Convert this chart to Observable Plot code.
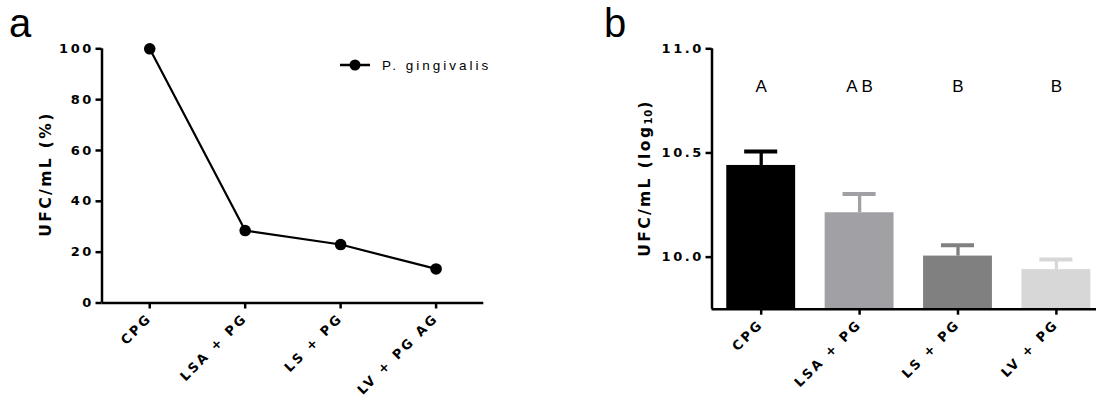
<!DOCTYPE html>
<html>
<head>
<meta charset="utf-8">
<script src="https://cdn.jsdelivr.net/npm/d3@7"></script>
<script src="https://cdn.jsdelivr.net/npm/@observablehq/plot@0.6"></script>
<style>
  html, body { margin: 0; padding: 0; background: #fff; }
  #wrap { position: relative; width: 1096px; height: 396px; overflow: hidden; font-family: "Liberation Sans", Arial, sans-serif; }
  .panel { position: absolute; top: 0; }
  .panel svg { overflow: visible; }
  .tag { position: absolute; font-size: 40px; line-height: 1; color: #000; }
  .ylab { position: absolute; white-space: nowrap; font-family: "DejaVu Sans", sans-serif; font-weight: bold; font-size: 15.5px; letter-spacing: 2.4px; color: #000;
          transform: translate(-50%, -50%) rotate(-90deg); }
  .ylab sub { font-size: 10px; vertical-align: -2px; letter-spacing: 1px; }
  .legend { position: absolute; display: flex; align-items: center; font-size: 13.5px; font-style: normal; letter-spacing: 3px; color: #000; }
</style>
</head>
<body>
<div id="wrap">
  <div class="tag" style="left:9px; top:3px;">a</div>
  <div class="tag" style="left:604px; top:3px;">b</div>
  <div id="panelA" class="panel" style="left:0;"></div>
  <div id="panelB" class="panel" style="left:560px;"></div>
  <div class="ylab" style="left:46px; top:174px;">UFC/mL (%)</div>
  <div class="ylab" style="left:645px; top:178px;">UFC/mL (log<sub>10</sub>)</div>
  <div class="legend" style="left:340px; top:57px;">
    <svg width="30" height="16" style="margin-right:12px;"><line x1="0" x2="30" y1="8" y2="8" stroke="#000" stroke-width="2.5"/><circle cx="15" cy="8" r="5.5" fill="#000"/></svg>
    <span>P. gingivalis</span>
  </div>
</div>
<script>
// Panel a: relative colony counts (%) per treatment
const categoriesA = ["CPG", "LSA + PG", "LS + PG", "LV + PG AG"];
const percentA = [100, 28.5, 23.0, 13.4];
const yTicksA = [0, 20, 40, 60, 80, 100];

// Panel b: colony counts (log10) per treatment, mean and SD, with group letters
const categoriesB = ["CPG", "LSA + PG", "LS + PG", "LV + PG"];
const meanB = [10.44, 10.213, 10.005, 9.94];
const sdB = [0.067, 0.09, 0.052, 0.048];
const lettersB = ["A", "A B", "B", "B"];
const colorsB = ["#000000", "#a1a1a5", "#808080", "#d7d7d7"];
const yTicksB = [10.0, 10.5, 11.0];
const yDomainB = [9.75, 11.0];

const xDomain = [-0.5, 3.5];
const font = "Liberation Sans, Arial, sans-serif";
const tickFont = {fontFamily: "DejaVu Sans, sans-serif", fontSize: 13, fontWeight: "bold"};

const dataA = categoriesA.map((c, i) => ({i, c, v: percentA[i]}));
const dataB = categoriesB.map((c, i) => ({i, c, m: meanB[i], sd: sdB[i], letter: lettersB[i], color: colorsB[i]}));

// spaced-out bold tick labels
function spaceTickLabels(svg) {
  d3.select(svg).selectAll('g[aria-label$="tick label"] text')
    .style("letter-spacing", "2.6px")
    .style("font-size", "13px")
    .style("font-weight", "bold")
    .style("font-family", "DejaVu Sans, sans-serif");
  return svg;
}

const plotA = Plot.plot({
  width: 560, height: 396,
  marginLeft: 101.5, marginRight: 76.7, marginTop: 48.3, marginBottom: 93.5,
  style: {fontFamily: font, background: "transparent", color: "#000"},
  x: {domain: xDomain, axis: null},
  y: {domain: [0, 100], axis: null},
  marks: [
    Plot.axisY({ticks: yTicksA, tickSize: 6, tickPadding: 2, strokeWidth: 2.5, label: null, ...tickFont}),
    Plot.axisX({ticks: [0, 1, 2, 3], tickFormat: i => categoriesA[i], tickRotate: -45, tickSize: 6, tickPadding: 7,
                strokeWidth: 2.5, label: null, ...tickFont}),
    Plot.ruleX([xDomain[0]], {strokeWidth: 2.5}),
    Plot.ruleY([0], {strokeWidth: 2.5}),
    Plot.line(dataA, {x: "i", y: "v", stroke: "#000", strokeWidth: 2.2}),
    Plot.dot(dataA, {x: "i", y: "v", r: 5.8, fill: "#000", stroke: null})
  ]
});
document.getElementById("panelA").appendChild(spaceTickLabels(plotA));

const plotB = Plot.plot({
  width: 536, height: 396,
  marginLeft: 151.5, marginRight: 0, marginTop: 48.3, marginBottom: 87.3,
  style: {fontFamily: font, background: "transparent", color: "#000"},
  x: {domain: xDomain, range: [151.5, 545.1], axis: null},
  y: {domain: yDomainB, axis: null},
  marks: [
    Plot.ruleX(dataB, {x: "i", y1: "m", y2: d => d.m + d.sd, stroke: "color", strokeWidth: 3.3}),
    Plot.ruleY(dataB, {y: d => d.m + d.sd, x1: d => d.i - 0.168, x2: d => d.i + 0.168, stroke: "color", strokeWidth: 4}),
    Plot.rect(dataB, {x1: d => d.i - 0.35, x2: d => d.i + 0.35, y1: yDomainB[0], y2: "m", fill: "color"}),
    Plot.text(dataB, {x: "i", text: "letter", frameAnchor: "top", dy: 31, fontSize: 17, fill: "#000"}),
    Plot.axisY({ticks: yTicksB, tickFormat: d3.format(".1f"), tickSize: 6, tickPadding: 2, strokeWidth: 2.5, label: null, ...tickFont}),
    Plot.axisX({ticks: [0, 1, 2, 3], tickFormat: i => categoriesB[i], tickRotate: -45, tickSize: 6, tickPadding: 7,
                strokeWidth: 2.5, label: null, ...tickFont}),
    Plot.ruleX([xDomain[0]], {strokeWidth: 2.5}),
    Plot.ruleY([yDomainB[0]], {strokeWidth: 2.5})
  ]
});
document.getElementById("panelB").appendChild(spaceTickLabels(plotB));
</script>
</body>
</html>
